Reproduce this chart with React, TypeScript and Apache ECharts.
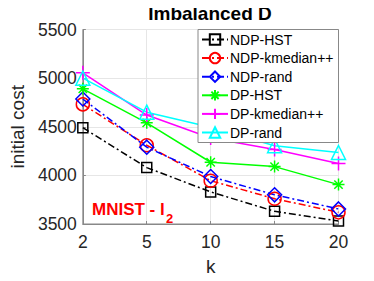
import React, { useEffect, useRef } from "react";
import * as echarts from "echarts";

const categories = ["2", "5", "10", "15", "20"];
const yTicks = [3500, 4000, 4500, 5000, 5500];
const seriesNames = ["NDP-HST", "NDP-kmedian++", "NDP-rand", "DP-HST", "DP-kmedian++", "DP-rand"];
const ndpHst = [4490, 4080, 3830, 3630, 3530];
const ndpKmedian = [4730, 4310, 3945, 3760, 3620];
const ndpRand = [4785, 4290, 3988, 3800, 3655];
const dpHst = [4890, 4540, 4135, 4090, 3905];
const dpKmedian = [5055, 4620, 4385, 4265, 4122];
const dpRand = [5000, 4650, 4495, 4305, 4235];

const FONT = "'Liberation Sans', Arial, Helvetica, sans-serif";
const DASHDOT = [7, 3, 2, 3];

const STAR = "path://M5 0 L5 10 M0 5 L10 5 M1.5 1.5 L8.5 8.5 M8.5 1.5 L1.5 8.5";
const PLUS = "path://M5 0 L5 10 M0 5 L10 5";

export default function App() {
  const ref = useRef<HTMLDivElement>(null);
  useEffect(() => {
    if (!ref.current) return;
    const chart = echarts.init(ref.current, undefined, { renderer: "svg" });
    const mk = (name: string, data: number[], color: string, symbol: string, size: number, dash: boolean) => ({
      name,
      type: "line",
      data,
      symbol,
      symbolSize: size,
      showAllSymbol: true,
      lineStyle: { color, width: 1.5, type: dash ? DASHDOT : "solid" },
      itemStyle: { color: "rgba(0,0,0,0)", borderColor: color, borderWidth: 1.5 },
      emphasis: { disabled: true },
    });
    chart.setOption({
      animation: false,
      backgroundColor: "#fff",
      title: {
        text: "Imbalanced D",
        left: 205,
        textAlign: "center",
        top: -1,
        textStyle: { fontFamily: FONT, fontSize: 19, fontWeight: "bold", color: "#000" },
      },
      grid: {
        left: 72.5,
        right: 35.5,
        top: 29.5,
        bottom: 53.5,
        show: true,
        borderColor: "#888",
        borderWidth: 1,
        backgroundColor: "transparent",
      },
      legend: {
        data: seriesNames,
        orient: "vertical",
        right: 35.5,
        top: 29.5,
        itemWidth: 26,
        itemHeight: 13,
        itemGap: 4.6,
        padding: [3, 5, 3, 3],
        backgroundColor: "#fff",
        borderColor: "#888",
        borderWidth: 1,
        borderRadius: 0,
        textStyle: { fontFamily: FONT, fontSize: 14, color: "#000", padding: [0, 0, 0, -3] },
      },
      xAxis: {
        type: "category",
        data: categories,
        boundaryGap: false,
        name: "k",
        nameLocation: "middle",
        nameGap: 33,
        nameTextStyle: { fontFamily: FONT, fontSize: 19, color: "#262626" },
        axisLine: { show: true, lineStyle: { color: "#888" } },
        axisTick: { show: true, inside: true, length: 3, lineStyle: { color: "#888" } },
        axisLabel: { interval: 0, fontFamily: FONT, fontSize: 17.5, color: "#262626", margin: 9 },
        splitLine: { show: true, lineStyle: { color: "#e6e6e6" } },
      },
      yAxis: {
        type: "value",
        min: yTicks[0],
        max: yTicks[yTicks.length - 1],
        interval: 500,
        name: "initial cost",
        nameLocation: "middle",
        nameGap: 52,
        nameTextStyle: { fontFamily: FONT, fontSize: 19, color: "#262626" },
        axisLine: { show: true, lineStyle: { color: "#888" } },
        axisTick: { show: true, inside: true, length: 3, lineStyle: { color: "#888" } },
        axisLabel: {
          fontFamily: FONT,
          fontSize: 17.5,
          color: "#262626",
          margin: 6,
          formatter: (v: number) => String(v),
        },
        splitLine: { show: true, lineStyle: { color: "#e6e6e6" } },
      },
      graphic: [
        {
          type: "text",
          left: 92,
          top: 201,
          style: { text: "MNIST - l", font: `bold 17px ${FONT}`, fill: "#ff0000" },
        },
        {
          type: "text",
          left: 166,
          top: 212,
          style: { text: "2", font: `bold 13px ${FONT}`, fill: "#ff0000" },
        },
      ],
      series: [
        mk(seriesNames[0], ndpHst, "#000000", "rect", 10, true),
        mk(seriesNames[1], ndpKmedian, "#ff0000", "circle", 13, true),
        mk(seriesNames[2], ndpRand, "#0000ff", "diamond", 14, true),
        mk(seriesNames[3], dpHst, "#00ff00", STAR, 12, false),
        mk(seriesNames[4], dpKmedian, "#ff00ff", PLUS, 14, false),
        mk(seriesNames[5], dpRand, "#00ffff", "triangle", 14, false),
      ],
    });
    return () => chart.dispose();
  }, []);
  return <div ref={ref} style={{ width: 374, height: 281, margin: -8 }} />;
}
